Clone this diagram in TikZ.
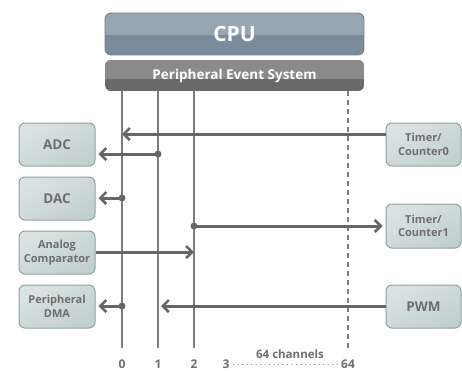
\documentclass[tikz,border=0pt]{standalone}
\usepackage{fontspec}
\setmainfont{Open Sans}
\usetikzlibrary{arrows.meta,calc}
\definecolor{boxfillA}{HTML}{D9E3E2}
\definecolor{boxfillB}{HTML}{C2D0CE}
\definecolor{boxdraw}{HTML}{8FA2A5}
\definecolor{boxtext}{HTML}{6E6E6E}
\definecolor{cpuA}{HTML}{98A6B2}
\definecolor{cpuB}{HTML}{7A8C9B}
\definecolor{cpuD}{HTML}{6C7D8B}
\definecolor{pesA}{HTML}{8A8A8A}
\definecolor{pesB}{HTML}{696969}
\definecolor{chan}{HTML}{7E7E7E}
\definecolor{arr}{HTML}{666666}
\begin{document}
\begin{tikzpicture}[x=1pt,y=-1pt,
  periph/.style={draw=boxdraw,line width=1pt,rounded corners=6pt,
    shading=axis,top color=boxfillA,bottom color=boxfillB,shading angle=30,
    minimum width=76pt,inner sep=0pt,align=center,
    text=boxtext,font=\bfseries\fontsize{11}{13.5}\selectfont},
  big/.style={periph,font=\bfseries\fontsize{13.5}{15}\selectfont},
  chline/.style={draw=chan,line width=1.3pt},
  sig/.style={draw=arr,line width=3pt,-{Straight Barb[length=6pt,width=12pt,line width=2.6pt]}},
  dot/.style={fill=arr,circle,inner sep=0pt,minimum size=7pt},
  lbl/.style={text=boxtext,inner sep=0pt,anchor=base,font=\bfseries\fontsize{12}{14}\selectfont}]
\useasboundingbox (0,0) rectangle (462,370);
\fill[white] (0,0) rectangle (462,370);
% CPU
\begin{scope}
\clip[rounded corners=6pt] (105,13) rectangle (364,55);
\fill[cpuB] (105,13) rectangle (364,55);
\fill[cpuA] (105,13) rectangle (364,35);
\end{scope}
\draw[cpuD,line width=0.8pt,rounded corners=6pt] (105,13) rectangle (364,55);
\node[text=white,font=\bfseries\fontsize{21}{24}\selectfont] (cpu) at (234.5,34) {CPU};
% PES
\begin{scope}
\clip[rounded corners=6pt] (105,60) rectangle (364,91);
\fill[pesB] (105,60) rectangle (364,91);
\fill[pesA] (105,60) rectangle (364,79);
\end{scope}
\node[text=white,font=\bfseries\fontsize{13.5}{16}\selectfont] (pes) at (234.5,76) {Peripheral Event System};
% channel lines
\coordinate (c0t) at (122,91); \coordinate (c0b) at (122,348);
\coordinate (c1t) at (158,91); \coordinate (c1b) at (158,348);
\coordinate (c2t) at (194,91); \coordinate (c2b) at (194,348);
\coordinate (c64t) at (348,91); \coordinate (c64b) at (348,348);
\draw[chline] (c0t) -- (c0b);
\draw[chline] (c1t) -- (c1b);
\draw[chline] (c2t) -- (c2b);
\draw[chline,dash pattern=on 5pt off 4pt] (c64t) -- (c64b);
% left peripherals
\node[big,minimum height=43pt] (adc) at (57,144.5) {ADC};
\node[big,minimum height=43pt] (dac) at (57,198.5) {DAC};
\node[periph,minimum height=43pt] (ac) at (57,252.5) {Analog\\Comparator};
\node[periph,minimum height=43pt] (dma) at (57,306.5) {Peripheral\\DMA};
% right peripherals
\node[periph,minimum height=43pt,minimum width=75pt] (tc0) at (423.5,144.5) {Timer/\\Counter0};
\node[periph,minimum height=44pt,minimum width=75pt] (tc1) at (423.5,226) {Timer/\\Counter1};
\node[big,minimum height=43pt,minimum width=75pt] (pwm) at (423.5,306.5) {PWM};
% connections
\coordinate (t0) at (122,134);
\draw[sig] (tc0.west |- t0) -- (t0);
\node[dot] (d1) at (158,154) {};
\draw[sig,shorten >=3pt] (d1.center) -- (adc.east |- d1);
\node[dot] (d2) at (122,198) {};
\draw[sig,shorten >=3pt] (d2.center) -- (dac.east |- d2);
\node[dot] (d3) at (194,226) {};
\draw[sig,shorten >=3pt] (d3.center) -- (tc1.west |- d3);
\coordinate (t2) at (194,252);
\draw[sig] (ac.east |- t2) -- (t2);
\node[dot] (d4) at (122,306) {};
\draw[sig,shorten >=3pt] (d4.center) -- (dma.east |- d4);
\coordinate (t1) at (158,306);
\draw[sig,shorten >=3pt] (pwm.west |- t1) -- (t1);
% labels
\node[lbl] (l0) at (122,368.5) {0};
\node[lbl] (l1) at (158,368.5) {1};
\node[lbl] (l2) at (194,368.5) {2};
\node[lbl] (l3) at (226,368.5) {3};
\node[lbl] (l64) at (348,368.5) {64};
\node[lbl,font=\bfseries\fontsize{11.5}{13}\selectfont] (lch) at (290,358) {64 channels};
\draw[arr,line width=1pt,line cap=round,dash pattern=on 0pt off 4.5pt] ($(l3.base east)+(4,-4)$) -- ($(l64.base west)+(-3,-4)$);
\end{tikzpicture}
\end{document}
